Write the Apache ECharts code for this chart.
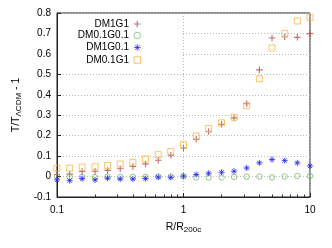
<!DOCTYPE html>
<html><head><meta charset="utf-8">
<script src="https://cdn.jsdelivr.net/npm/echarts@6/dist/echarts.min.js"></script>
<style>html,body{margin:0;padding:0;background:#fff}#c{width:332px;height:248px}</style>
</head><body><div id="c"></div>
<script>
// R / R200c sample radii
const radii = [0.1, 0.126, 0.158, 0.2, 0.251, 0.316, 0.398, 0.501, 0.631, 0.794, 1, 1.26, 1.58, 2.0, 2.51, 3.16, 3.98, 5.01, 6.31, 7.94, 10];
const dm1g1 = [0.010, 0.012, 0.025, 0.026, 0.030, 0.038, 0.049, 0.062, 0.080, 0.104, 0.140, 0.182, 0.220, 0.256, 0.287, 0.356, 0.522, 0.678, 0.684, 0.681, 0.699];
const dm01g01 = [0.000, -0.002, -0.002, -0.003, -0.001, -0.002, -0.002, -0.002, 0.000, 0.000, 0.001, -0.004, -0.005, -0.005, -0.002, 0.000, 0.000, -0.004, 0.000, 0.003, 0.003];
const dm1g01 = [-0.016, -0.020, -0.010, -0.016, -0.008, -0.012, -0.012, -0.010, -0.003, -0.004, 0.002, 0.010, 0.016, 0.021, 0.026, 0.042, 0.067, 0.083, 0.078, 0.067, 0.052];
const dm01g1 = [0.041, 0.041, 0.046, 0.048, 0.054, 0.061, 0.070, 0.086, 0.107, 0.123, 0.156, 0.198, 0.235, 0.263, 0.290, 0.346, 0.478, 0.629, 0.700, 0.761, 0.779];
const seriesNames = ['DM1G1', 'DM0.1G0.1', 'DM1G0.1', 'DM0.1G1'];
const seriesValues = [dm1g1, dm01g01, dm1g01, dm01g1];
const xMinorTicks = [0.2, 0.3, 0.4, 0.5, 0.6, 0.7, 0.8, 0.9, 2, 3, 4, 5, 6, 7, 8, 9];

const FONT = 'Liberation Sans';
const styles = [
  {symbol: 'path://M0,5L10,5M5,0L5,10', symbolSize: 6.5, itemStyle: {color: 'rgba(0,0,0,0)', borderColor: '#b5474f', borderWidth: 1.1}},
  {symbol: 'circle', symbolSize: 5.5, itemStyle: {color: 'rgba(0,0,0,0)', borderColor: '#79bb69', borderWidth: 1}},
  {symbol: 'path://M0,5L10,5M5,0L5,10M1.5,1.5L8.5,8.5M8.5,1.5L1.5,8.5', symbolSize: 6, itemStyle: {color: 'rgba(0,0,0,0)', borderColor: '#2424f0', borderWidth: 1}},
  {symbol: 'rect', symbolSize: 6, itemStyle: {color: 'rgba(0,0,0,0)', borderColor: '#f6b645', borderWidth: 1}}
];

const chart = echarts.init(document.getElementById('c'), null, {renderer: 'canvas'});
chart.setOption({
  animation: false,
  backgroundColor: '#fff',
  textStyle: {fontFamily: FONT},
  grid: {left: 57, right: 22, top: 13, bottom: 51, show: true, borderColor: '#222', borderWidth: 1},
  graphic: [{type: 'rect', z: 1, shape: {x: 58, y: 14, width: 125, height: 52}, style: {fill: '#fff'}}],
  legend: seriesNames.map((n, i) => ({
    data: [{name: n, icon: styles[i].symbol, itemStyle: styles[i].itemStyle}],
    selectedMode: false, align: 'right', orient: 'horizontal',
    right: 191, top: [19, 30.5, 42.5, 55][i], padding: 0, itemGap: 0,
    itemWidth: 6.5, itemHeight: 6.5,
    textStyle: {fontSize: 10, fontFamily: FONT, color: '#000'}
  })),
  xAxis: [{
    type: 'log', logBase: 10, min: 0.1, max: 10,
    name: '{a|R/R}{s|200c}', nameLocation: 'middle', nameGap: 23,
    nameTextStyle: {color: '#000', rich: {a: {fontSize: 10.5, fontFamily: FONT, color: '#000'}, s: {fontSize: 8, fontFamily: FONT, color: '#000', padding: [6, 0, 0, 0]}}},
    axisLine: {show: true, onZero: false, lineStyle: {color: '#222'}},
    axisTick: {show: true, inside: true, length: 4, lineStyle: {color: '#222'}},
    axisLabel: {color: '#000', fontSize: 10, fontFamily: FONT, margin: 8},
    splitLine: {show: true, lineStyle: {type: [1, 2], color: '#bbb'}}
  }, {
    type: 'log', logBase: 10, min: 0.1, max: 10, position: 'bottom',
    axisLine: {show: false, onZero: false},
    axisTick: {show: true, inside: true, length: 2.5, customValues: xMinorTicks, lineStyle: {color: '#333'}},
    axisLabel: {show: false},
    splitLine: {show: false}
  }],
  yAxis: {
    type: 'value', min: -0.1, max: 0.8, interval: 0.1,
    name: '{a|T/T}{s|ΛCDM}{a| - 1}', nameLocation: 'middle', nameGap: 30, nameRotate: 90,
    nameTextStyle: {color: '#000', rich: {a: {fontSize: 10.5, fontFamily: FONT, color: '#000'}, s: {fontSize: 8, fontFamily: FONT, color: '#000', padding: [6, 0, 0, 0]}}},
    axisLine: {show: true, onZero: false, lineStyle: {color: '#222'}},
    axisTick: {show: true, inside: true, length: 4, lineStyle: {color: '#222'}},
    axisLabel: {color: '#000', fontSize: 10, fontFamily: FONT, margin: 6,
      formatter: v => String(Math.round(v * 10) / 10)},
    splitLine: {show: true, lineStyle: {type: [1, 2], color: '#bbb'}}
  },
  series: seriesNames.map((n, i) => Object.assign({
    name: n, type: 'scatter', z: 3, xAxisIndex: 0,
    data: radii.map((r, j) => [r, seriesValues[i][j]])
  }, styles[i]))
});
</script></body></html>
